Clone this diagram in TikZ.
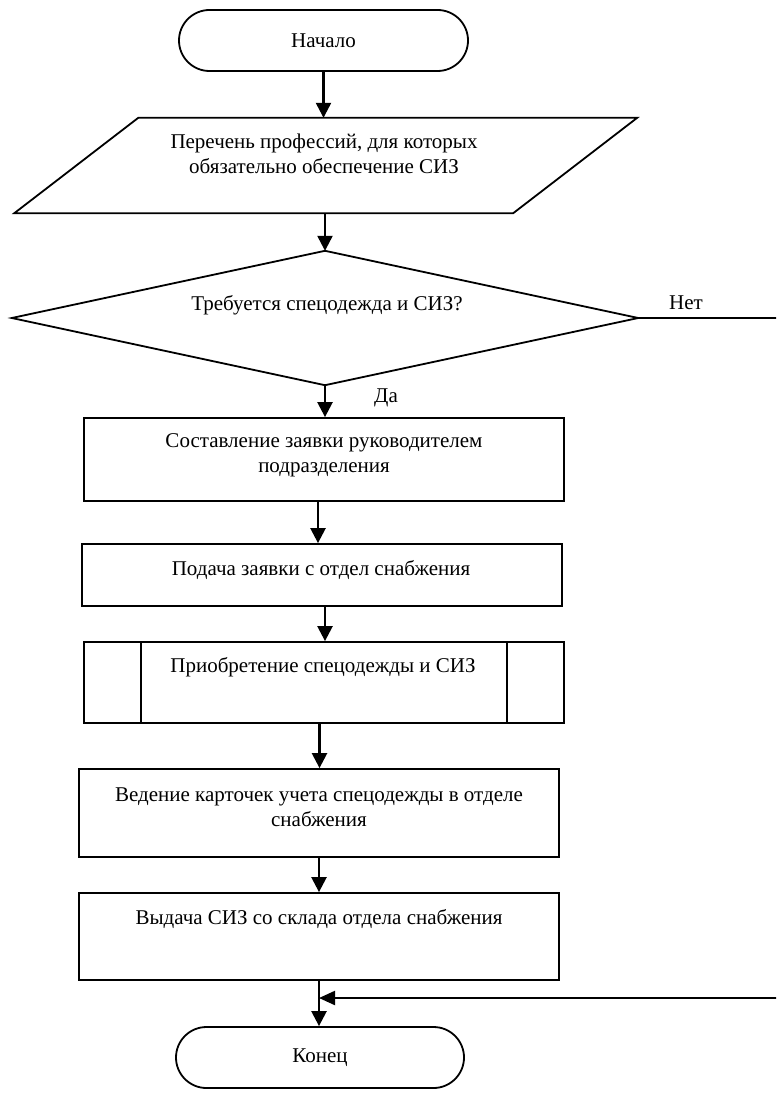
\documentclass[tikz,border=0pt]{standalone}
\usepackage{fontspec}
\setmainfont{Liberation Serif}
\usetikzlibrary{shapes.misc,arrows.meta,calc}
\begin{document}
\begin{tikzpicture}[x=1pt,y=-1pt,
  font=\fontsize{21}{25}\selectfont,
  outline/.style={draw=black,line width=1.8pt},
  terminal/.style={outline,rounded rectangle,minimum width=289pt,minimum height=61pt,inner sep=0pt},
  stepbox/.style={outline,rectangle,inner sep=0pt,minimum width=480pt},
  frame/.style={rectangle,inner sep=0pt},
  txt/.style={align=center,inner sep=0pt},
  flow/.style={line width=2.4pt,-{Triangle[length=15pt,width=15pt]}},
  back/.style={line width=2.2pt,-{Triangle[length=16pt,width=14pt]}},
]
\useasboundingbox (0,0) rectangle (776,1094);
\clip (0,0) rectangle (776,1094);

% terminals
\node[terminal] (start) at (323.5,40.5) {Начало};
\node[terminal,minimum width=288pt] (end) at (320,1057.5) {Конец};

% input/output (parallelogram)
\node[frame,minimum width=498.5pt,minimum height=95pt] (list) at (325.75,165.5) {};
\draw[outline] ($(list.north west)+(62,0)$) -- ($(list.north east)+(62,0)$)
  -- ($(list.south east)+(-62,0)$) -- ($(list.south west)+(-62,0)$) -- cycle;
\node[txt] (listtext) at (324,154)
  {\fontsize{21}{22}\selectfont Перечень профессий, для которых\\обязательно обеспечение СИЗ};

% decision
\node[frame,minimum width=626pt,minimum height=134pt] (dec) at (325,318) {};
\draw[outline] (dec.north) -- (dec.east) -- (dec.south) -- (dec.west) -- cycle;
\node[txt] (dectext) at (327,305) {Требуется спецодежда и СИЗ?};
\node[txt] (no) at (686,303) {Нет};
\node[txt] (yes) at (386,398) {Да};

% process steps
\node[stepbox,minimum height=83pt] (b1) at (324,459.5) {};
\node[txt] (t1) at (324,455.5) {Составление заявки руководителем\\подразделения};

\node[stepbox,minimum height=62pt] (b2) at (322,575) {};
\node[txt] (t2) at (321,570) {Подача заявки с отдел снабжения};

\node[stepbox,minimum height=81pt] (b3) at (324,682.5) {};
\draw[outline] ([xshift=58pt]b3.north west) -- ([xshift=58pt]b3.south west);
\draw[outline] ([xshift=-58pt]b3.north east) -- ([xshift=-58pt]b3.south east);
\node[txt] (t3) at (323,667) {Приобретение спецодежды и СИЗ};

\node[stepbox,minimum height=88pt] (b4) at (319,813) {};
\node[txt] (t4) at (319,807.5) {Ведение карточек учета спецодежды в отделе\\снабжения};

\node[stepbox,minimum height=87pt] (b5) at (319,936.5) {};
\node[txt] (t5) at (319,919) {Выдача СИЗ со склада отдела снабжения};

\coordinate (merge) at (319,998);

% connectors
\draw[flow] (start.south) -- (start.south |- list.north);
\draw[flow] (list.south -| dec.north) -- (dec.north);
\draw[flow] (dec.south) -- (dec.south |- b1.north);
\draw[flow] ([xshift=-6pt]b1.south) -- ([xshift=-6pt]b1.south |- b2.north);
\draw[flow] ([xshift=3pt]b2.south) -- ([xshift=3pt]b2.south |- b3.north);
\draw[flow] ([xshift=-4.5pt]b3.south) -- ([xshift=-4.5pt]b3.south |- b4.north);
\draw[flow] (b4.south) -- (b4.south |- b5.north);
\draw[flow] (b5.south) -- (b5.south |- end.north);
\draw[back] (dec.east) -- ++(160,0) |- (merge);
\end{tikzpicture}
\end{document}
